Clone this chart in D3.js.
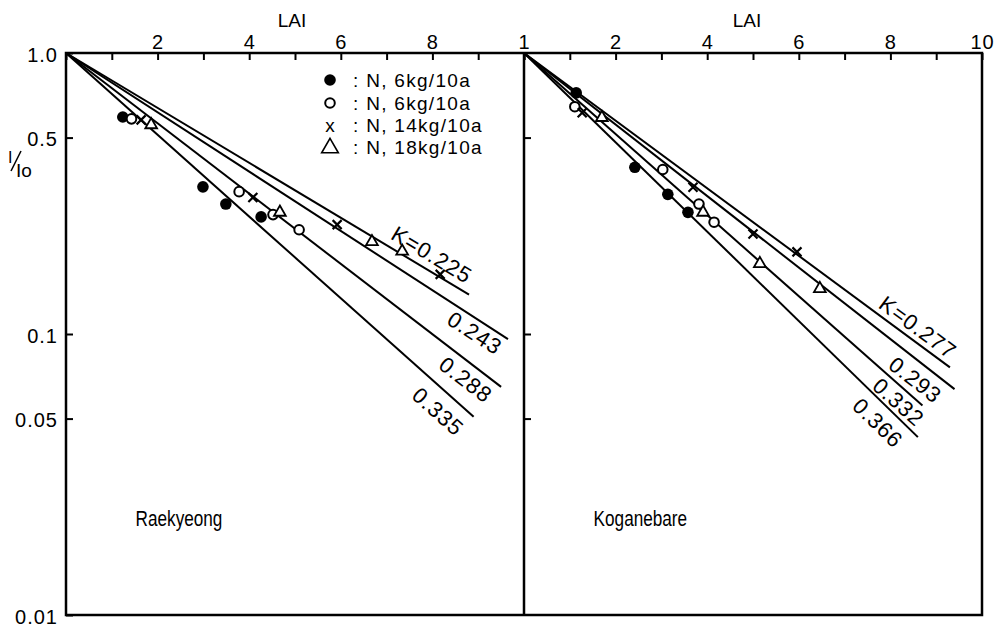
<!DOCTYPE html>
<html>
<head>
<meta charset="utf-8">
<script src="https://cdn.jsdelivr.net/npm/d3@7"></script>
<style>
	body { margin: 0; background: #fff; }
	svg { display: block; font-family: "Liberation Sans", Arial, Helvetica, sans-serif; }
</style>
</head>
<body>
<svg width="996" height="629"></svg>
<script>
// fitted extinction coefficients (K) and where each line stops (LAI)
var kLeft = [0.225, 0.243, 0.288, 0.335];
var kLeftEnd = [8.8, 9.65, 9.5, 8.9];
var kLeftText = ["K=0.225", "0.243", "0.288", "0.335"];
var kRight = [0.277, 0.293, 0.332, 0.366];
var kRightEnd = [9.3, 9.4, 8.7, 8.6];
var kRightText = ["K=0.277", "0.293", "0.332", "0.366"];

// measured points: LAI and I/Io, per nitrogen level
var legendText = ["N, 6kg/10a", "N, 6kg/10a", "N, 14kg/10a", "N, 18kg/10a"];
var leftLai = [
	[1.24, 2.99, 3.49, 4.26],
	[1.43, 3.78, 4.52, 5.09],
	[1.64, 4.08, 5.92, 8.17],
	[1.86, 4.67, 6.68, 7.34]
];
var leftI = [
	[0.592, 0.334, 0.290, 0.261],
	[0.583, 0.321, 0.266, 0.235],
	[0.578, 0.306, 0.245, 0.163],
	[0.555, 0.271, 0.213, 0.197]
];
var rightLai = [
	[1.14, 2.42, 3.14, 3.58],
	[1.11, 3.03, 3.82, 4.15],
	[1.27, 3.69, 5.00, 5.96],
	[1.70, 3.91, 5.15, 6.46]
];
var rightI = [
	[0.721, 0.392, 0.314, 0.271],
	[0.644, 0.385, 0.290, 0.250],
	[0.613, 0.333, 0.227, 0.196],
	[0.589, 0.271, 0.178, 0.145]
];

var yTicks = [1, 0.5, 0.1, 0.05, 0.01];
var yTickText = ["1.0", "0.5", "0.1", "0.05", "0.01"];
var leftTopText = ["", "", "2", "", "4", "", "6", "", "8", "", ""];
var rightTopText = ["1", "", "2", "", "4", "", "6", "", "8", "", "10"];

var svg = d3.select("svg");
var top0 = 53, bot = 615, x0 = 66, mid = 524, x1 = 982;

var xL = d3.scaleLinear().domain([0, 10]).range([x0, mid]);
var xR = d3.scaleLinear().domain([0, 10]).range([mid, x1]);
var y = d3.scaleLog().domain([0.01, 1]).range([bot, top0]);

function styleAxis(g, size) {
	g.select(".domain").remove();
	g.selectAll(".tick line").attr("stroke", "#000").attr("stroke-width", 2);
	g.selectAll(".tick text").attr("fill", "#000").style("font-size", size + "px").style("letter-spacing", "1px");
}

// top axes
svg.append("g").attr("transform", "translate(0," + top0 + ")")
	.call(d3.axisTop(xL).tickValues(d3.range(0, 11)).tickSize(-7).tickPadding(4)
		.tickFormat(function(d) { return leftTopText[d]; }))
	.call(function(g) { styleAxis(g, 20); });
svg.append("g").attr("transform", "translate(0," + top0 + ")")
	.call(d3.axisTop(xR).tickValues(d3.range(0, 11)).tickSize(-7).tickPadding(4)
		.tickFormat(function(d) { return rightTopText[d]; }))
	.call(function(g) { styleAxis(g, 20); });

// y axes
svg.append("g").attr("transform", "translate(" + x0 + ",0)")
	.call(d3.axisLeft(y).tickValues(yTicks).tickSize(-7).tickPadding(8)
		.tickFormat(function(d, i) { return yTickText[i]; }))
	.call(function(g) { styleAxis(g, 20); })
	.call(function(g) { g.selectAll(".tick text").attr("dy", "0.42em"); });
svg.append("g").attr("transform", "translate(" + mid + ",0)")
	.call(d3.axisLeft(y).tickValues([0.5, 0.1, 0.05]).tickSize(-7).tickFormat(""))
	.call(function(g) { styleAxis(g, 20); });

// frame
svg.append("rect")
	.attr("x", x0).attr("y", top0).attr("width", x1 - x0).attr("height", bot - top0)
	.attr("fill", "none").attr("stroke", "#000").attr("stroke-width", 2.5);
svg.append("line")
	.attr("x1", mid).attr("x2", mid).attr("y1", top0).attr("y2", bot)
	.attr("stroke", "#000").attr("stroke-width", 2.5);

// titles
svg.append("text").attr("x", 292).attr("y", 27).attr("text-anchor", "middle")
	.style("font-size", "19px").text("LAI");
svg.append("text").attr("x", 747).attr("y", 27).attr("text-anchor", "middle")
	.style("font-size", "19px").text("LAI");

// I/Io
svg.append("text").attr("x", 8).attr("y", 163).style("font-size", "16px").text("I");
svg.append("line").attr("x1", 11).attr("y1", 171).attr("x2", 21).attr("y2", 151)
	.attr("stroke", "#000").attr("stroke-width", 1.5);
svg.append("text").attr("x", 16).attr("y", 177).style("font-size", "19px").text("Io");

function drawPanel(xs, ks, ends, texts, laiSets, iSets, labelT, labelOff, name) {
	var g = svg.append("g");
	var line = d3.line().x(function(d) { return xs(d[0]); }).y(function(d) { return y(d[1]); });

	ks.forEach(function(k, i) {
		g.append("path")
			.attr("d", line([[0, 1], [ends[i], Math.exp(-k * ends[i])]]))
			.attr("fill", "none").attr("stroke", "#000").attr("stroke-width", 2);

		var t = labelT[i];
		var px = xs(t), py = y(Math.exp(-k * t));
		var ang = Math.atan2(y(Math.exp(-k * (t + 1))) - py, xs(t + 1) - px) * 180 / Math.PI;
		g.append("text")
			.attr("transform", "translate(" + px + "," + py + ") rotate(" + ang + ") translate(0," + labelOff[i] + ")")
			.attr("text-anchor", "middle").attr("dominant-baseline", "central")
			.style("font-size", "22px").style("letter-spacing", "1px")
			.text(texts[i]);
	});

	laiSets.forEach(function(lai, s) {
		lai.forEach(function(v, j) {
			drawMark(g, s, xs(v), y(iSets[s][j]));
		});
	});

	svg.append("text")
		.attr("transform", "translate(" + xs(1.52) + "," + y(0.0208) + ") scale(0.78,1)")
		.style("font-size", "22px")
		.text(name);
}

function drawMark(g, s, cx, cy) {
	if (s === 0) {
		g.append("circle").attr("cx", cx).attr("cy", cy).attr("r", 5.8).attr("fill", "#000");
	} else if (s === 1) {
		g.append("circle").attr("cx", cx).attr("cy", cy).attr("r", 4.8)
			.attr("fill", "#fff").attr("stroke", "#000").attr("stroke-width", 2);
	} else if (s === 2) {
		var r = 4.5;
		g.append("path")
			.attr("d", "M" + (cx - r) + "," + (cy - r) + "L" + (cx + r) + "," + (cy + r) +
				"M" + (cx + r) + "," + (cy - r) + "L" + (cx - r) + "," + (cy + r))
			.attr("stroke", "#000").attr("stroke-width", 2.2);
	} else {
		g.append("path")
			.attr("d", d3.symbol(d3.symbolTriangle, 60)())
			.attr("transform", "translate(" + cx + "," + cy + ")")
			.attr("fill", "#fff").attr("stroke", "#000").attr("stroke-width", 1.8);
	}
}

drawPanel(xL, kLeft, kLeftEnd, kLeftText, leftLai, leftI,
	[7.82, 9.08, 8.94, 8.41], [-15, 13, 16, 20], "Raekyeong");
drawPanel(xR, kRight, kRightEnd, kRightText, rightLai, rightI,
	[8.43, 8.77, 8.37, 8.0], [-13, 17, 13.5, 18], "Koganebare");

// legend
var legY = [80, 103, 125, 147];
var leg = svg.append("g");
legY.forEach(function(ly, i) {
	if (i === 2) {
		leg.append("text").attr("x", 330).attr("y", ly).attr("text-anchor", "middle")
			.attr("dominant-baseline", "central").style("font-size", "19px").text("x");
	} else if (i === 3) {
		leg.append("path")
			.attr("d", d3.symbol(d3.symbolTriangle, 120)())
			.attr("transform", "translate(330," + (ly + 1) + ")")
			.attr("fill", "none").attr("stroke", "#000").attr("stroke-width", 1.6);
	} else {
		drawMark(leg, i, 330, ly);
	}
	leg.append("text").attr("x", 353).attr("y", ly).attr("dominant-baseline", "central")
		.style("font-size", "19px").style("letter-spacing", "1.3px")
		.text(":  " + legendText[i]);
});
</script>
</body>
</html>
